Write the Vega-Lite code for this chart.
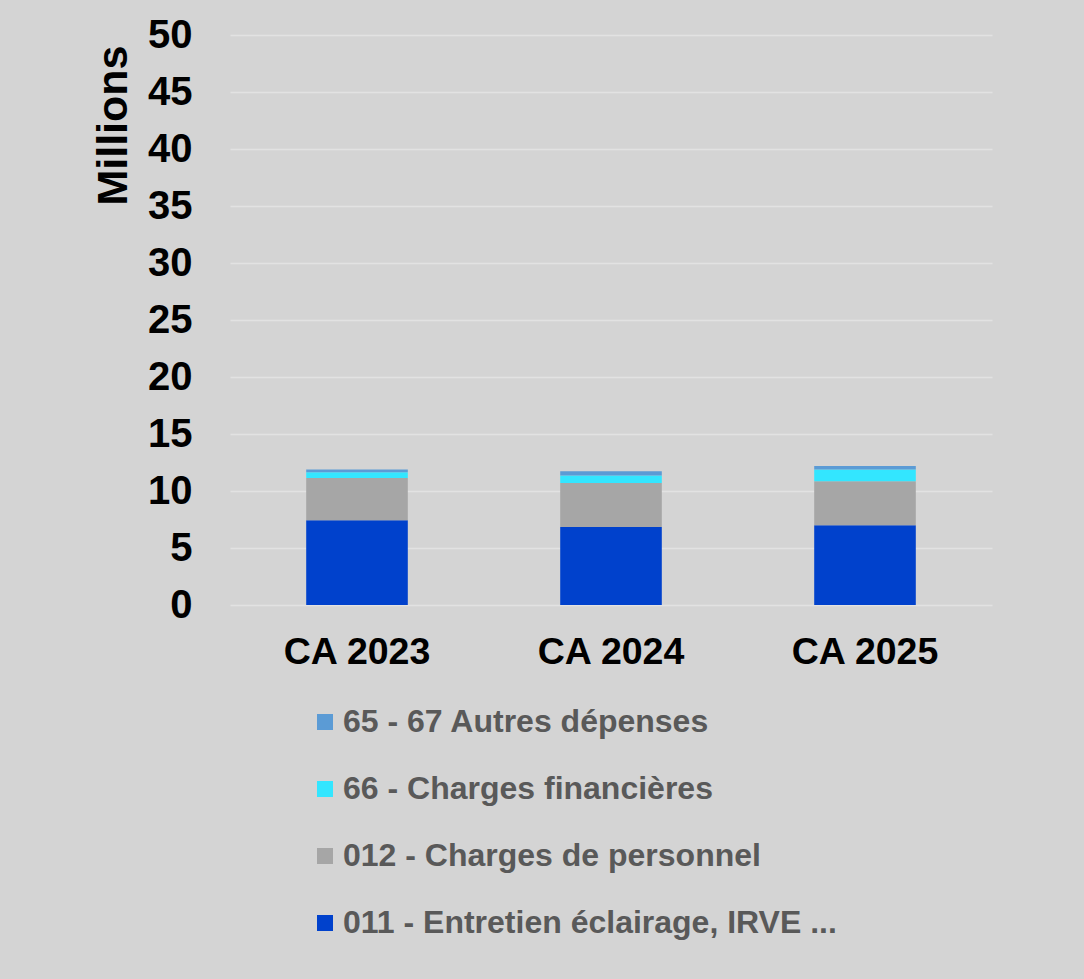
{
  "$schema": "https://vega.github.io/schema/vega-lite/v6.json",
  "width": 762,
  "height": 570,
  "autosize": "none",
  "padding": {"left": 230, "top": 35, "right": 92, "bottom": 374},
  "background": "#d4d4d4",
  "data": {
    "values": [
      {"annee": "CA 2023", "poste": "011 - Entretien éclairage, IRVE ...", "rang": 1, "montant": 7.44},
      {"annee": "CA 2023", "poste": "012 - Charges de personnel", "rang": 2, "montant": 3.71},
      {"annee": "CA 2023", "poste": "66 - Charges financières", "rang": 3, "montant": 0.49},
      {"annee": "CA 2023", "poste": "65 - 67 Autres dépenses", "rang": 4, "montant": 0.24},
      {"annee": "CA 2024", "poste": "011 - Entretien éclairage, IRVE ...", "rang": 1, "montant": 6.85},
      {"annee": "CA 2024", "poste": "012 - Charges de personnel", "rang": 2, "montant": 3.85},
      {"annee": "CA 2024", "poste": "66 - Charges financières", "rang": 3, "montant": 0.65},
      {"annee": "CA 2024", "poste": "65 - 67 Autres dépenses", "rang": 4, "montant": 0.38},
      {"annee": "CA 2025", "poste": "011 - Entretien éclairage, IRVE ...", "rang": 1, "montant": 7.0},
      {"annee": "CA 2025", "poste": "012 - Charges de personnel", "rang": 2, "montant": 3.85},
      {"annee": "CA 2025", "poste": "66 - Charges financières", "rang": 3, "montant": 1.03},
      {"annee": "CA 2025", "poste": "65 - 67 Autres dépenses", "rang": 4, "montant": 0.32}
    ]
  },
  "mark": {"type": "bar"},
  "encoding": {
    "x": {
      "field": "annee",
      "type": "nominal",
      "scale": {"paddingInner": 0.6, "paddingOuter": 0.3},
      "axis": {
        "title": null,
        "labelAngle": 0,
        "labelFont": "Liberation Sans",
        "labelFontWeight": "bold",
        "labelFontSize": 37.5,
        "labelColor": "#000000",
        "labelPadding": 28,
        "domain": false,
        "ticks": false,
        "grid": false
      }
    },
    "y": {
      "field": "montant",
      "type": "quantitative",
      "stack": "zero",
      "scale": {"domain": [0, 50]},
      "axis": {
        "title": "Millions",
        "titleFont": "Liberation Sans",
        "titleFontWeight": "bold",
        "titleFontSize": 43,
        "titleColor": "#000000",
        "titleAnchor": "end",
        "titleY": 10,
        "titlePadding": 12,
        "values": [0, 5, 10, 15, 20, 25, 30, 35, 40, 45, 50],
        "labelFont": "Liberation Sans",
        "labelFontWeight": "bold",
        "labelFontSize": 40,
        "labelColor": "#000000",
        "labelPadding": 38,
        "domain": false,
        "ticks": false,
        "grid": true,
        "gridColor": "#e2e2e2",
        "gridWidth": 1.5
      }
    },
    "color": {
      "field": "poste",
      "type": "nominal",
      "scale": {
        "domain": ["65 - 67 Autres dépenses", "66 - Charges financières", "012 - Charges de personnel", "011 - Entretien éclairage, IRVE ..."],
        "range": ["#5b9bd5", "#33e6ff", "#a6a6a6", "#0041cc"]
      },
      "legend": {
        "title": null,
        "orient": "none",
        "legendX": 79,
        "legendY": 671,
        "direction": "vertical",
        "symbolType": "square",
        "symbolSize": 256,
        "symbolStrokeWidth": 0,
        "labelFont": "Liberation Sans",
        "labelFontWeight": "bold",
        "labelFontSize": 32,
        "labelColor": "#595959",
        "labelOffset": 2,
        "labelLimit": 800,
        "rowPadding": 35
      }
    },
    "order": {"field": "rang", "type": "quantitative"}
  },
  "config": {
    "view": {"stroke": null}
  }
}
